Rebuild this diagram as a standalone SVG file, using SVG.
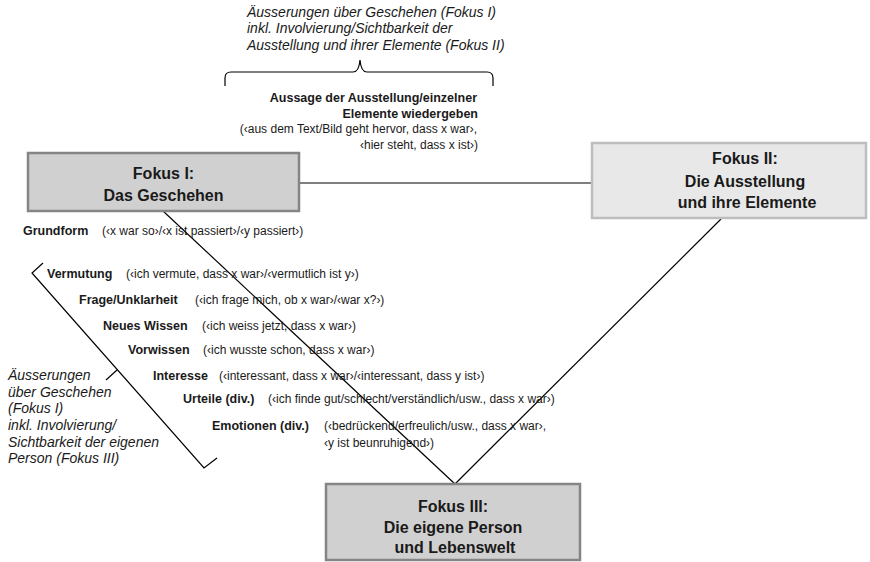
<svg xmlns="http://www.w3.org/2000/svg" width="870" height="562" viewBox="0 0 870 562">
<style>
.bg{fill:#ffffff}
.box1{fill:#d0d0d0;stroke:#858585;stroke-width:2.5}
.box2{fill:#e8e8e8;stroke:#bdbdbd;stroke-width:2.5}
.title{font-family:"Liberation Sans",Arial,sans-serif;font-weight:bold;font-size:16px;fill:#1a1a1a;text-anchor:middle}
.lbl{font-family:"Liberation Sans",Arial,sans-serif;font-weight:bold;font-size:12.5px;fill:#1a1a1a}
.ex{font-family:"Liberation Sans",Arial,sans-serif;font-size:12px;fill:#1a1a1a}
.it{font-family:"Liberation Sans",Arial,sans-serif;font-style:italic;font-size:14px;fill:#1a1a1a}
.ln{stroke:#000;stroke-width:1.2;fill:none}
.end{text-anchor:end}
</style>
<rect class="bg" x="0" y="0" width="870" height="562"/>

<g id="connectors">
  <line class="ln" x1="299" y1="183" x2="592" y2="183"/>
  <line class="ln" x1="163" y1="211" x2="455" y2="484"/>
  <line class="ln" x1="455" y1="484" x2="721" y2="219"/>
</g>

<g id="focus1">
  <rect class="box1" x="28" y="153" width="271" height="58"/>
  <text class="title" x="163.5" y="179">Fokus I:</text>
  <text class="title" x="163.5" y="201">Das Geschehen</text>
</g>

<g id="focus2">
  <rect class="box2" x="592" y="143" width="274" height="75"/>
  <text class="title" x="745" y="164">Fokus II:</text>
  <text class="title" x="745" y="187">Die Ausstellung</text>
  <text class="title" x="747" y="208">und ihre Elemente</text>
</g>

<g id="focus3">
  <rect class="box1" x="326" y="484" width="254" height="76"/>
  <text class="title" x="453" y="512">Fokus III:</text>
  <text class="title" x="453" y="533">Die eigene Person</text>
  <text class="title" x="455" y="553">und Lebenswelt</text>
</g>

<g id="top-annotation">
  <text class="it" x="247" y="17">Äusserungen über Geschehen (Fokus I)</text>
  <text class="it" x="247" y="33">inkl. Involvierung/Sichtbarkeit der</text>
  <text class="it" x="247" y="50">Ausstellung und ihrer Elemente (Fokus II)</text>
  <path class="ln" d="M225,86 V78 Q225,72 231,72 H353 Q359,72 360,60 Q361,72 367,72 H487 Q493,72 493,78 V86"/>
</g>

<g id="reproduce">
  <text class="lbl end" x="477" y="102">Aussage der Ausstellung/einzelner</text>
  <text class="lbl end" x="478" y="118">Elemente wiedergeben</text>
  <text class="ex end" x="477" y="133">(‹aus dem Text/Bild geht hervor, dass x war›,</text>
  <text class="ex end" x="478" y="149">‹hier steht, dass x ist›)</text>
</g>

<g id="grundform">
  <text class="lbl" x="23" y="235">Grundform</text>
  <text class="ex" x="102" y="235">(‹x war so›/‹x ist passiert›/‹y passiert›)</text>
</g>

<g id="left-annotation">
  <path class="ln" d="M43,263 L32,273 L204,468 L217,458"/>
  <line class="ln" x1="117" y1="370" x2="106" y2="380"/>
  <text class="it" x="8" y="380">Äusserungen</text>
  <text class="it" x="8" y="397">über Geschehen</text>
  <text class="it" x="8" y="413">(Fokus I)</text>
  <text class="it" x="8" y="430">inkl. Involvierung/</text>
  <text class="it" x="8" y="447">Sichtbarkeit der eigenen</text>
  <text class="it" x="8" y="463">Person (Fokus III)</text>
</g>

<g id="vermutung">
  <text class="lbl" x="47" y="278">Vermutung</text>
  <text class="ex" x="126" y="278">(‹ich vermute, dass x war›/‹vermutlich ist y›)</text>
</g>
<g id="frage">
  <text class="lbl" x="79" y="304">Frage/Unklarheit</text>
  <text class="ex" x="195" y="304">(‹ich frage mich, ob x war›/‹war x?›)</text>
</g>
<g id="neues-wissen">
  <text class="lbl" x="103" y="330">Neues Wissen</text>
  <text class="ex" x="202" y="330">(‹ich weiss jetzt, dass x war›)</text>
</g>
<g id="vorwissen">
  <text class="lbl" x="128" y="354">Vorwissen</text>
  <text class="ex" x="203" y="354">(‹ich wusste schon, dass x war›)</text>
</g>
<g id="interesse">
  <text class="lbl" x="153" y="380">Interesse</text>
  <text class="ex" x="219" y="380">(‹interessant, dass x war›/‹interessant, dass y ist›)</text>
</g>
<g id="urteile">
  <text class="lbl" x="183" y="403">Urteile (div.)</text>
  <text class="ex" x="268" y="403">(‹ich finde gut/schlecht/verständlich/usw., dass x war›)</text>
</g>
<g id="emotionen">
  <text class="lbl" x="212" y="430">Emotionen (div.)</text>
  <text class="ex" x="324" y="430">(‹bedrückend/erfreulich/usw., dass x war›,</text>
  <text class="ex" x="324" y="447">‹y ist beunruhigend›)</text>
</g>
</svg>
